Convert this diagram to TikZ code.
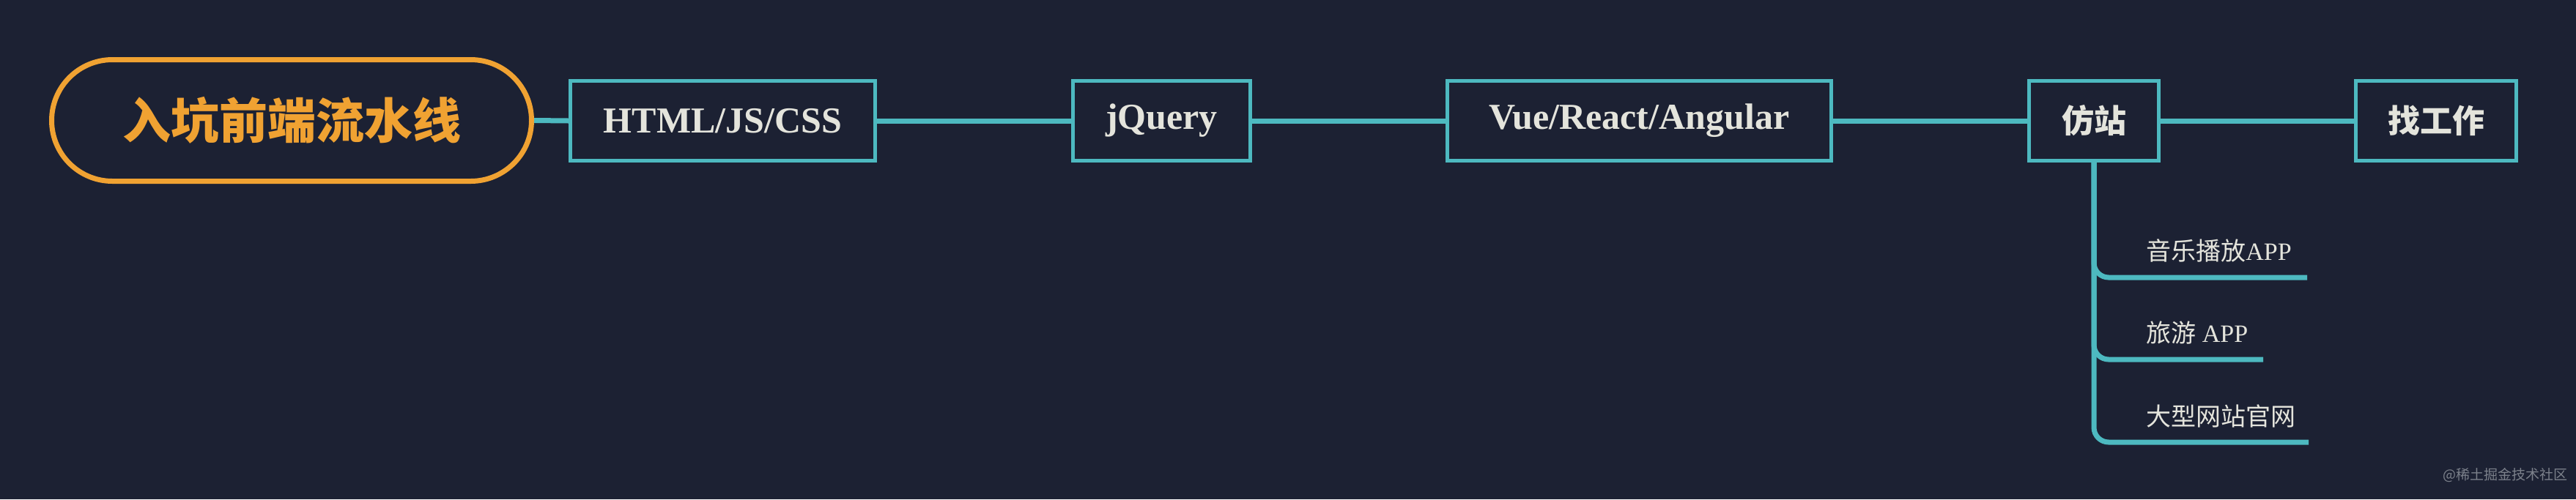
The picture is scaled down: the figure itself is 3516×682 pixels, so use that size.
\documentclass[tikz,border=0pt]{standalone}
\usepackage{fontspec}
\setmainfont{Liberation Serif}
\newfontfamily\cjk{Noto Sans CJK SC}
\definecolor{bgc}{HTML}{1C2133}
\definecolor{teal}{HTML}{4DB9C0}
\definecolor{orng}{HTML}{F0A232}
\definecolor{txt}{HTML}{E4E4DC}
\definecolor{wm}{HTML}{7C818B}
\begin{document}
\begin{tikzpicture}[x=0.5pt,y=-0.5pt,
  topic/.style={draw=teal,line width=2.5pt,fill=bgc,inner sep=0pt,minimum height=54.5pt,text=txt,font=\fontsize{25}{29}\selectfont\bfseries},
  cjktopic/.style={topic,font=\cjk\fontsize{22}{26}\selectfont\bfseries},
  rootbox/.style={draw=orng,line width=3.5pt,fill=bgc,rounded corners=41.5pt,inner sep=0pt,minimum width=327.5pt,minimum height=83pt,text=orng,font=\cjk\fontsize{33}{38}\selectfont\bfseries},
  link/.style={draw=teal,line width=3.5pt},
  branch/.style={draw=teal,line width=3.5pt,rounded corners=10pt},
  sub/.style={anchor=base west,inner sep=0pt,text=txt,font=\fontsize{17}{20}\selectfont}]
\fill[bgc] (0,0) rectangle (3516,682);
\useasboundingbox (0,0) rectangle (3516,682);
\node[rootbox] (root) at (398,164.5) {入坑前端流水线};
\node[topic,minimum width=208pt] (html) at (986.5,165) {HTML/JS/CSS};
\node[topic,minimum width=121pt] (jq) at (1585.5,165) {jQuery};
\node[topic,minimum width=262pt] (vue) at (2237.5,165) {Vue/React/Angular};
\node[cjktopic,minimum width=88.5pt] (fz) at (2858,165) {仿站};
\node[cjktopic,minimum width=109.5pt] (job) at (3325,165) {找工作};
\draw[link] (root.east) -- (html.west);
\draw[link] (html.east) -- (jq.west);
\draw[link] (jq.east) -- (vue.west);
\draw[link] (vue.east) -- (fz.west);
\draw[link] (fz.east) -- (job.west);
\coordinate (b1) at (3149,379);
\coordinate (b2) at (3089,491);
\coordinate (b3) at (3151,604);
\draw[branch] (fz.south) |- (b3);
\draw[branch] (fz.south) |- (b2);
\draw[branch] (fz.south) |- (b1);
\node[sub] (s1) at (2929,355) {{\cjk 音乐播放}APP};
\node[sub] (s2) at (2929,467) {{\cjk 旅游} APP};
\node[sub] (s3) at (2929,581) {\cjk 大型网站官网};
\node[anchor=base west,inner sep=0pt,text=wm,font=\cjk\fontsize{9.5}{11}\selectfont] (wmk) at (3334,655) {@稀土掘金技术社区};
\end{tikzpicture}
\end{document}
